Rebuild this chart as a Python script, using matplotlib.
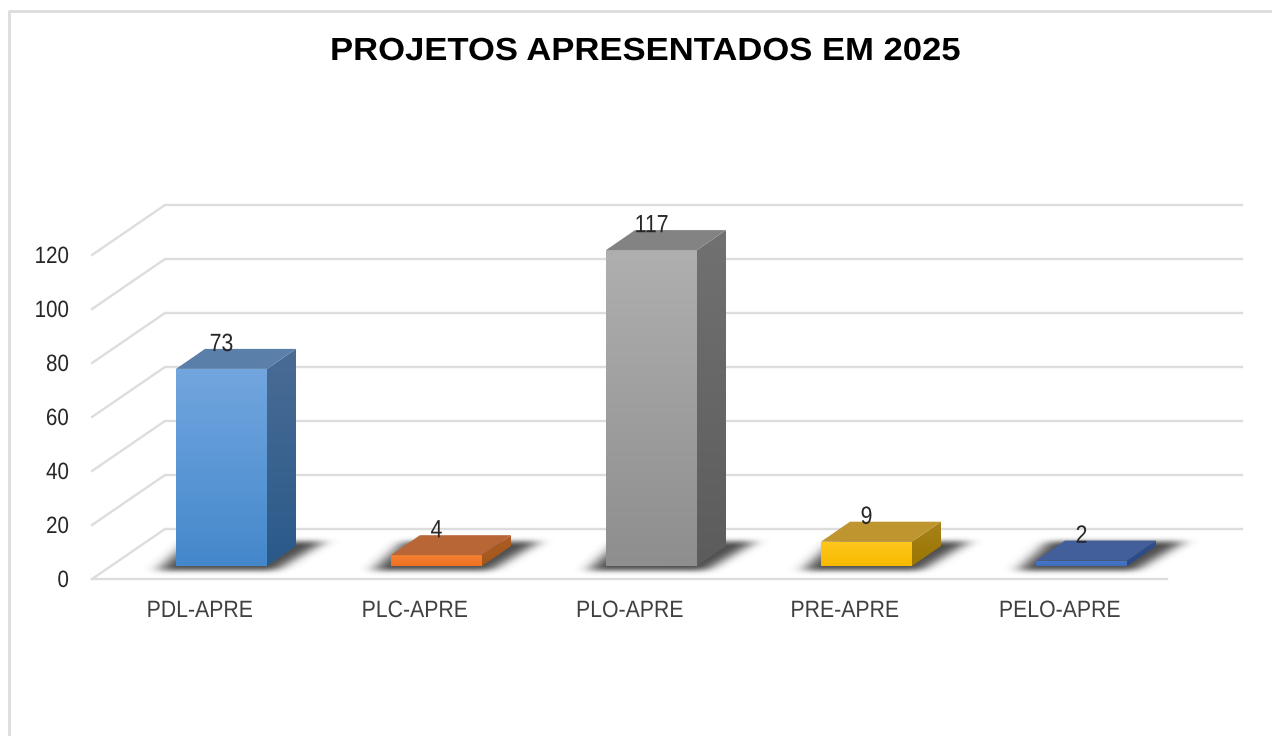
import numpy as np
import matplotlib
matplotlib.use("Agg")
import matplotlib.pyplot as plt
from matplotlib.path import Path
from matplotlib.patches import Polygon
from matplotlib.patheffects import AbstractPathEffect
from matplotlib.transforms import Affine2D

categories = ["PDL-APRE", "PLC-APRE", "PLO-APRE", "PRE-APRE", "PELO-APRE"]
values = [73, 4, 117, 9, 2]
y_ticks = [0, 20, 40, 60, 80, 100, 120]
title = "PROJETOS APRESENTADOS EM 2025"

# gradient top/bottom of the front, then top face, side top/bottom
front_top = ["#72a6df", "#f58233", "#afafaf", "#ffc81e", "#4a78c8"]
front_bot = ["#4488cb", "#ee7020", "#8e8e8e", "#f7b900", "#3f6cbc"]
top_col = ["#5a7fa8", "#b86636", "#838383", "#bf9530", "#425f9c"]
side_top = ["#4a6c95", "#ad5d26", "#717171", "#a8821c", "#2f4f8e"]
side_bot = ["#2a5a8a", "#a3561a", "#5c5c5c", "#9a7600", "#2a4a85"]

W, H = 1272, 736
PX = 215.0   # pixels per category
PY = 2.7     # pixels per unit
X0 = 221.5   # pixel x of first category
Y0 = 566.0   # pixel y of value 0 on the bars

fig = plt.figure(figsize=(W / 100, H / 100), dpi=100)
ax = fig.add_axes([0, 0, 1, 1])
ax.set_xlim(-X0 / PX, (W - X0) / PX)
ax.set_ylim((Y0 - H) / PY, Y0 / PY)
ax.axis("off")


class Squeeze(AbstractPathEffect):
    # the original font is a narrow Arial, squeeze the glyphs sideways
    def __init__(self, sx, anchor="center"):
        super().__init__()
        self.sx = sx
        self.anchor = anchor

    def draw_path(self, renderer, gc, tpath, affine, rgbFace=None):
        ext = tpath.get_extents()
        c = ext.x1 if self.anchor == "right" else (ext.x0 + ext.x1) / 2
        t = Affine2D().translate(-c, 0).scale(self.sx, 1).translate(c, 0)
        renderer.draw_path(gc, tpath, t + affine, rgbFace)


def xp(p):
    return (p - X0) / PX


def yp(p):
    return (Y0 - p) / PY


bar_w = 91 / PX
dx = 29 / PX
dy = 20 / PY
grid = "#dddddd"
font = "Liberation Sans"

# chart border, only left and top are visible
ax.plot([xp(9.5), xp(9.5), xp(1272)], [yp(736), yp(10.5), yp(10.5)],
        color="#dcdcdc", lw=2, solid_capstyle="butt")

# walls
for v in y_ticks:
    back = yp(529) + v
    front = yp(579) + v
    ax.plot([xp(92), xp(165), xp(1242)], [front, back, back], color=grid, lw=1.7, solid_joinstyle="miter")
ax.plot([xp(92), xp(1167)], [yp(579), yp(579)], color=grid, lw=1.7)
for v in y_ticks:
    ax.text(xp(69), yp(581) + v, str(v), ha="right", va="center", fontsize=17, family=font,
            color="#262626", path_effects=[Squeeze(0.87, "right")])


def shadow(i):
    # blurred parallelogram on the floor below the bar
    xl = X0 + PX * i - bar_w * PX / 2
    xs = np.arange(xl - 80, xl + 200)
    ys = np.arange(525, 585)
    gx, gy = np.meshgrid(xs, ys)
    pts = [(xl - 24, 571), (xl + 102, 571), (xl + 156, 539), (xl + 10, 539)]
    mask = Path(pts).contains_points(np.c_[gx.ravel(), gy.ravel()]).reshape(gx.shape).astype(float)
    kx = np.ones(21) / 21
    ky = np.ones(7) / 7
    for _ in range(2):
        mask = np.apply_along_axis(lambda r: np.convolve(r, kx, mode="same"), 1, mask)
        mask = np.apply_along_axis(lambda r: np.convolve(r, ky, mode="same"), 0, mask)
    rgba = np.zeros(mask.shape + (4,))
    rgba[..., :3] = 0.25
    rgba[..., 3] = mask ** 1.8 * 0.92
    ax.imshow(rgba, extent=(xp(xs[0]), xp(xs[-1] + 1), yp(ys[-1] + 1), yp(ys[0])),
              origin="upper", aspect="auto", zorder=3, interpolation="bilinear")


def gradient(poly, c1, c2):
    # fills the box of the polygon with a vertical gradient and clips it
    c1 = np.array(matplotlib.colors.to_rgb(c1))
    c2 = np.array(matplotlib.colors.to_rgb(c2))
    t = np.linspace(0, 1, 128)[:, None, None]
    img = c1[None, None, :] * (1 - t) + c2[None, None, :] * t
    pa = np.array(poly)
    im = ax.imshow(img, extent=(pa[:, 0].min(), pa[:, 0].max(), pa[:, 1].min(), pa[:, 1].max()),
                   origin="upper", aspect="auto", zorder=5)
    clip = Polygon(poly, transform=ax.transData)
    im.set_clip_path(clip)


for i, v in enumerate(values):
    shadow(i)
    l, r = i - bar_w / 2, i + bar_w / 2
    gradient([(l, 0), (r, 0), (r, v), (l, v)], front_top[i], front_bot[i])
    gradient([(r, 0), (r + dx, dy), (r + dx, v + dy), (r, v)], side_top[i], side_bot[i])
    ax.add_patch(Polygon([(l, v), (r, v), (r + dx, v + dy), (l + dx, v + dy)], closed=True,
                         facecolor=top_col[i], edgecolor="none", zorder=5))
    ax.text(i, v + dy + 1.8, str(v), ha="center", va="center", fontsize=18, zorder=6, family=font,
            color="#262626", path_effects=[Squeeze(0.85)])
    ax.text(xp(X0 + PX * i - 22), yp(611), categories[i], ha="center", va="center", fontsize=17,
            family=font, color="#404040", path_effects=[Squeeze(0.9)])

ax.set_xlim(-X0 / PX, (W - X0) / PX)
ax.set_ylim((Y0 - H) / PY, Y0 / PY)

ax.text(xp(646), yp(52), title, ha="center", va="center", fontsize=23, fontweight="bold",
        family=font, color="black", path_effects=[Squeeze(1.084)])

fig.savefig("out.png", dpi=100)
